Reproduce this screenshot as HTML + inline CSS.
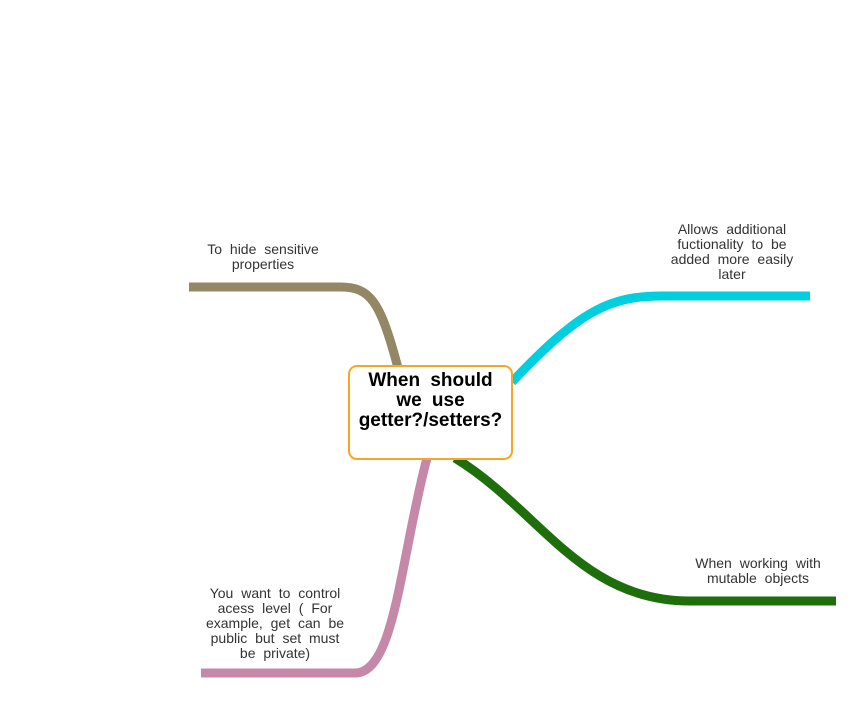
<!DOCTYPE html>
<html><head><meta charset="utf-8"><style>
html,body{margin:0;padding:0;background:#fff;width:860px;height:703px;overflow:hidden}
.t{position:absolute;font-family:"Liberation Sans",Arial,sans-serif;font-size:14px;line-height:15px;color:#333;text-align:center;word-spacing:4px}
.box{position:absolute;left:348px;top:365px;width:161px;height:91px;border:2px solid #f5a623;border-radius:9px;background:#fff;box-sizing:content-box}
.c{position:absolute;left:346px;top:371px;width:169px;font-family:"Liberation Sans",Arial,sans-serif;font-weight:bold;font-size:19px;line-height:20px;text-align:center;color:#000;word-spacing:5px}
</style></head><body>
<svg width="860" height="703" style="position:absolute;left:0;top:0">
<g fill="none" stroke-width="9" stroke-linecap="butt">
<path d="M189 287 L340 287 C370 287 380 300 398 368" stroke="#948766"/>
<path d="M512 382 C580 310 610 296 662 296 L810 296" stroke="#00cfe0"/>
<path d="M455 458 C540 510 580 601 690 601 L836 601" stroke="#1f6e0c"/>
<path d="M427 458 C400 560 395 673 355 673 L201 673" stroke="#c688a8"/>
</g>
</svg>
<div class="box"></div>
<div class="c">When should<br>we use<br>getter?/setters?</div>
<div class="t" style="left:178px;top:242px;width:170px">To hide sensitive<br>properties</div>
<div class="t" style="left:647px;top:222px;width:170px">Allows additional<br>fuctionality to be<br>added more easily<br>later</div>
<div class="t" style="left:668px;top:556px;width:180px">When working with<br>mutable objects</div>
<div class="t" style="left:180px;top:586px;width:190px">You want to control<br>acess level ( For<br>example, get can be<br>public but set must<br>be private)</div>
</body></html>
